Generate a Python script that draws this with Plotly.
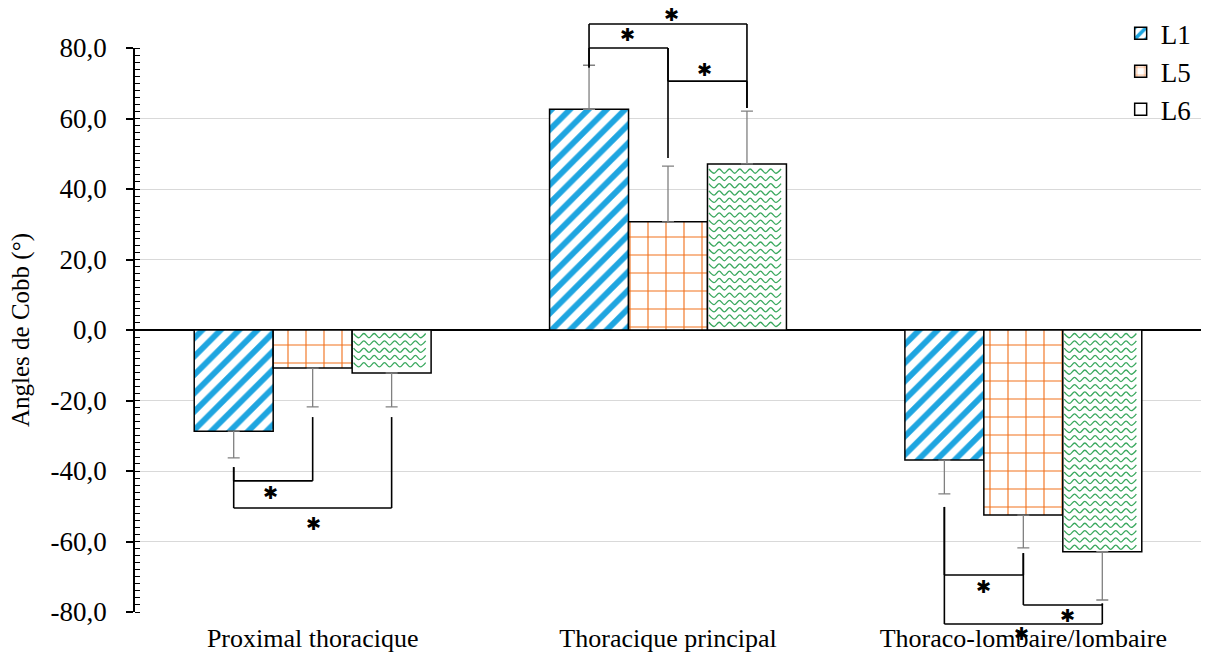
import plotly.graph_objects as go

# Cobb angles (degrees) per curve region and group
categories = ["Proximal thoracique", "Thoracique principal", "Thoraco-lombaire/lombaire"]
series_names = ["L1", "L5", "L6"]
l1_values = [-28.7, 62.6, -36.9]
l5_values = [-10.8, 30.7, -52.5]
l6_values = [-12.2, 47.1, -62.9]
l1_err = [7.6, 12.5, 9.6]
l5_err = [11.0, 15.8, 9.3]
l6_err = [9.6, 15.0, 13.7]

y_tick_vals = [-80, -60, -40, -20, 0, 20, 40, 60, 80]
y_tick_text = ["-80,0", "-60,0", "-40,0", "-20,0", "0,0", "20,0", "40,0", "60,0", "80,0"]

# significance brackets: (series a, series b, category, leg start a, leg start b, bar level)
brackets = [
    (0, 1, 0, -38.9, -24.7, -42.8),
    (0, 2, 0, -38.9, -24.7, -50.5),
    (0, 2, 1, 74.5, 63.0, 86.8),
    (0, 1, 1, 74.5, 48.8, 80.0),
    (1, 2, 1, 80.0, 63.0, 70.6),
    (0, 1, 2, -50.2, -63.3, -69.5),
    (1, 2, 2, -63.3, -77.6, -78.0),
    (0, 2, 2, -50.2, -77.6, -83.4),
]
# star marks: (x in category units, y)
stars = [
    (-0.118, -46.2), (0.003, -54.8),
    (0.885, 83.7), (1.009, 89.6), (1.102, 74.0),
    (1.889, -72.9), (2.123, -80.9), (1.996, -86.0),
]

Y_MIN, Y_MAX = -80, 80
BAR_W = 2 / 9
OFFSETS = [-BAR_W, 0.0, BAR_W]
xs = list(range(len(categories)))

BLUE = "#1ea5e0"
ORANGE = "#f2711c"
GREEN = "#3aa85e"
SERIF = "Liberation Serif"


def one_sided(values, errs):
    up = [e if v >= 0 else 0 for v, e in zip(values, errs)]
    down = [e if v < 0 else 0 for v, e in zip(values, errs)]
    return up, down


def err_style(values, errs):
    up, down = one_sided(values, errs)
    return dict(type="data", symmetric=False, array=up, arrayminus=down,
                color="#808080", thickness=1.3, width=6)


fig = go.Figure()

fig.add_trace(go.Bar(
    name=series_names[0], x=xs, y=l1_values,
    marker=dict(color="white", line=dict(color="black", width=1.5),
                pattern=dict(shape="/", fgcolor=BLUE, bgcolor="white", fgopacity=1,
                             size=13, solidity=0.45, fillmode="overlay")),
    error_y=err_style(l1_values, l1_err),
))
fig.add_trace(go.Bar(
    name=series_names[1], x=xs, y=l5_values,
    marker=dict(color="white", line=dict(color="black", width=1.5),
                pattern=dict(shape="+", fgcolor=ORANGE, bgcolor="white", fgopacity=1,
                             size=18, solidity=0.12, fillmode="overlay")),
    error_y=err_style(l5_values, l5_err),
))
fig.add_trace(go.Bar(
    name=series_names[2], x=xs, y=l6_values,
    marker=dict(color="white", line=dict(color="black", width=1.5)),
    error_y=err_style(l6_values, l6_err),
))

# wavy fill for the L6 bars, built from each bar's extent
wx, wy = [], []
half_period = 0.0145
amp = 0.6
for xc, v in zip(xs, l6_values):
    left = xc + OFFSETS[2] - BAR_W / 2 + 0.004
    right = xc + OFFSETS[2] + BAR_W / 2 - 0.004
    sign = 1 if v >= 0 else -1
    level = 1.6
    while level < abs(v) - 1.0:
        yc = sign * level
        k = 0
        x = left
        while x <= right:
            wx.append(x)
            wy.append(yc + (amp if k % 2 == 0 else -amp))
            x += half_period
            k += 1
        wx.append(None)
        wy.append(None)
        level += 2.07
fig.add_trace(go.Scatter(
    x=wx, y=wy, mode="lines", line=dict(color=GREEN, width=1.3, shape="spline"),
    showlegend=False, hoverinfo="skip",
))


def to_dom(y):
    return (y - Y_MIN) / (Y_MAX - Y_MIN)


line_style = dict(color="black", width=1.6)
for a, b, c, ya, yb, ybar in brackets:
    xa = xs[c] + OFFSETS[a]
    xb = xs[c] + OFFSETS[b]
    for x0, y0 in ((xa, ya), (xb, yb)):
        fig.add_shape(type="line", xref="x", yref="y domain",
                      x0=x0, x1=x0, y0=to_dom(y0), y1=to_dom(ybar), line=line_style)
    fig.add_shape(type="line", xref="x", yref="y domain",
                  x0=xa, x1=xb, y0=to_dom(ybar), y1=to_dom(ybar), line=line_style)

for sx, sy in stars:
    fig.add_annotation(x=sx, y=to_dom(sy), xref="x", yref="y domain", text="✱",
                       showarrow=False, xanchor="center", yanchor="middle",
                       font=dict(family="DejaVu Sans", size=18, color="black"))

fig.update_layout(
    width=1207, height=659,
    margin=dict(l=135, r=6, t=48, b=47),
    paper_bgcolor="white", plot_bgcolor="white",
    barmode="group", bargap=1 / 3, bargroupgap=0,
    font=dict(family=SERIF, color="black"),
    legend=dict(x=0.995, xanchor="right", y=1.069, yanchor="top",
                font=dict(family=SERIF, size=27), bgcolor="rgba(0,0,0,0)",
                itemwidth=30, tracegroupgap=0),
    xaxis=dict(range=[-0.5, 2.5], tickvals=xs, ticktext=categories,
               showgrid=False, zeroline=False, showline=False, ticks="",
               ticklabelstandoff=8,
               tickfont=dict(family=SERIF, size=26)),
    yaxis=dict(range=[Y_MIN, Y_MAX], tickvals=y_tick_vals, ticktext=y_tick_text,
               showgrid=True, gridcolor="#d9d9d9", gridwidth=1,
               zeroline=True, zerolinecolor="black", zerolinewidth=1.5,
               showline=True, linecolor="black", linewidth=1.5,
               ticks="outside", ticklen=7, tickwidth=1.5, tickcolor="black",
               ticklabelstandoff=14,
               minor=dict(dtick=2, ticks="inside", ticklen=5, tickwidth=1,
                          tickcolor="black", showgrid=False),
               tickfont=dict(family=SERIF, size=27),
               title=dict(text="Angles de Cobb (°)", font=dict(family=SERIF, size=25),
                          standoff=14)),
    yaxis2=dict(range=[Y_MIN, Y_MAX], overlaying="y", anchor="x", side="left",
                tickvals=y_tick_vals, ticks="inside", ticklen=7, tickwidth=1.5,
                tickcolor="black", showticklabels=False, showgrid=False,
                zeroline=False, showline=False),
)

fig.write_html("out.html")
